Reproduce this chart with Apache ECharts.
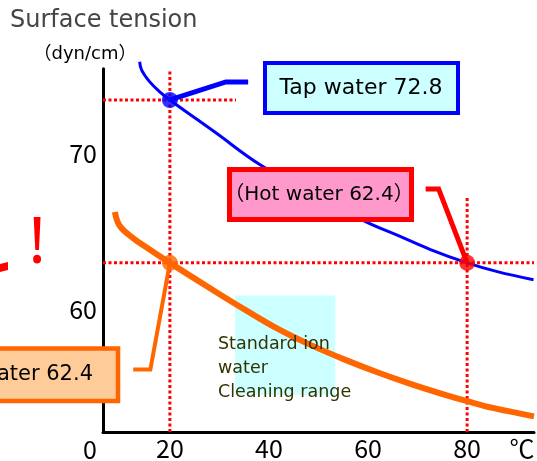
<!DOCTYPE html>
<html><head><meta charset="utf-8">
<script src="https://cdn.jsdelivr.net/npm/echarts@6/dist/echarts.min.js"></script>
<style>html,body{margin:0;padding:0;background:#fff}#c{width:537px;height:461px}</style>
</head><body><div id="c"></div>
<script>
// Data
var tapT = [13.9, 14.3, 15.9, 17.9, 20, 29.2, 38.3, 49, 59.4, 66, 72.6, 80, 86.1, 93.4];
var tapV = [75.24, 74.71, 73.97, 73.33, 72.8, 70.72, 68.65, 66.8, 65.05, 64.15, 63.25, 62.4, 61.84, 61.32];
var ionT = [8.9, 9.9, 12.5, 15.9, 20, 28.6, 35.3, 42, 48.6, 55.3, 62, 68.7, 75.4, 80, 85.4, 93.5];
var ionV = [65.65, 64.75, 64.0, 63.25, 62.4, 60.68, 59.38, 58.15, 57.13, 56.22, 55.4, 54.66, 53.99, 53.57, 53.12, 52.6];
var xTickLabels = [20, 40, 60, 80];
var yTickLabels = [60, 70];
var tapPoint = [20, 72.8];
var hotPoint = [80, 62.4];
var ionPoint = [20, 62.4];
var cleaningRange = [[33.15, 60.31], [53.39, 53.98]];
var tapLeader = [[20, 72.8], [31.3, 73.95], [35.8, 73.95]];
var hotLeader = [[71.63, 67.12], [74.24, 67.12], [80, 62.4]];
var ionLeader = [[12.61, 55.59], [16.06, 55.59], [20, 62.4]];
var guideH1 = [[6.5, 72.8], [33.35, 72.8]];
var guideV1 = [[20, 51.6], [20, 74.71]];
var guideH2 = [[6.5, 62.4], [93.5, 62.4]];
var guideV2 = [[80, 51.6], [80, 66.55]];

function zip(a, b) { return a.map(function (v, i) { return [v, b[i]]; }); }
var FONT = '"Noto Sans CJK JP","Noto Sans",sans-serif';
var LFONT = '"DejaVu Sans","Noto Sans CJK JP",sans-serif';
var chart = echarts.init(document.getElementById('c'));
var dotted = function (d) {
  return { type: 'line', data: d, symbol: 'none', silent: true, z: 2,
    lineStyle: { color: '#FF0000', width: 3, type: [3, 2.5] } };
};
var leader = function (d, c, w) {
  return { type: 'line', data: d, symbol: 'none', silent: true, z: 4, clip: false,
    lineStyle: { color: c, width: w, join: 'miter' } };
};
function onlyTicks(list) {
  return function (v) { var r = Math.round(v); return (Math.abs(v - r) < 1e-6 && list.indexOf(r) >= 0) ? String(r) : ''; };
}
chart.setOption({
  animation: false,
  grid: { left: 103, right: 0, top: 68.65, bottom: 28.73 },
  xAxis: { type: 'value', min: 6.5, max: 93.5, interval: 0.5,
    axisLine: { onZero: false, lineStyle: { color: '#000', width: 3 } },
    axisTick: { show: false }, splitLine: { show: false },
    axisLabel: { margin: 4, fontSize: 25, color: '#000', fontFamily: FONT, interval: 0,
      formatter: onlyTicks(xTickLabels) } },
  yAxis: { type: 'value', min: 51.6, max: 74.8, interval: 0.2,
    axisLine: { show: true, onZero: false, lineStyle: { color: '#000', width: 3 } },
    axisTick: { show: false }, splitLine: { show: false },
    axisLabel: { margin: 6, fontSize: 25, color: '#000', fontFamily: FONT, interval: 0,
      verticalAlign: 'top', lineHeight: 19,
      formatter: onlyTicks(yTickLabels) } },
  series: [
    { type: 'line', data: [], z: 1, silent: true,
      markArea: { silent: true, itemStyle: { color: '#CCFFFF' },
        data: [[{ coord: cleaningRange[0] }, { coord: cleaningRange[1] }]] } },
    dotted(guideH1), dotted(guideV1), dotted(guideH2), dotted(guideV2),
    { type: 'line', data: zip(tapT, tapV), symbol: 'none', smooth: 0.4, clip: false, z: 3,
      lineStyle: { color: '#0000FF', width: 3 } },
    { type: 'line', data: zip(ionT, ionV), symbol: 'none', smooth: 0.4, clip: false, z: 3,
      lineStyle: { color: '#FF6600', width: 6 } },
    leader(tapLeader, '#0000FF', 5), leader(hotLeader, '#FF0000', 5), leader(ionLeader, '#FF6600', 4),
    { type: 'scatter', data: [tapPoint], symbolSize: 16, z: 5, itemStyle: { color: '#0000FF' } },
    { type: 'scatter', data: [hotPoint], symbolSize: 16, z: 5, itemStyle: { color: '#FF0000' } },
    { type: 'scatter', data: [ionPoint], symbolSize: 16, z: 5, itemStyle: { color: '#FF6600' } }
  ],
  graphic: [
    { type: 'text', z: 100, x: 10, y: 21, style: { text: 'Surface tension', font: '24px ' + LFONT, fill: '#454545', verticalAlign: 'middle' } },
    { type: 'text', z: 100, x: 85, y: 54, style: { text: '（dyn/cm）', font: '18px ' + LFONT, fill: '#000', align: 'center', verticalAlign: 'middle' } },
    { type: 'text', z: 100, x: 90, y: 449, style: { text: '0', font: '25px ' + FONT, fill: '#000', align: 'center', verticalAlign: 'middle' } },
    { type: 'text', z: 100, x: 522, y: 448, style: { text: '℃', font: '25px "Noto Sans CJK JP",sans-serif', fill: '#000', align: 'center', verticalAlign: 'middle' } },
    { type: 'text', z: 100, x: 218, y: 332, style: { text: 'Standard ion\nwater\nCleaning range', font: '17.5px ' + LFONT, lineHeight: 24, fill: '#333300' } },
    { type: 'rect', z: 100, shape: { x: 265, y: 63, width: 193, height: 50 }, style: { fill: '#CCFFFF', stroke: '#0000FF', lineWidth: 4 } },
    { type: 'text', z: 101, x: 361, y: 88, style: { text: 'Tap water 72.8', font: '22px ' + LFONT, fill: '#000', align: 'center', verticalAlign: 'middle' } },
    { type: 'rect', z: 100, shape: { x: 229.5, y: 169.5, width: 182, height: 50 }, style: { fill: '#FF99CC', stroke: '#FF0000', lineWidth: 5 } },
    { type: 'text', z: 101, x: 319, y: 195, style: { text: '（Hot water 62.4）', font: '20px ' + LFONT, fill: '#000', align: 'center', verticalAlign: 'middle' } },
    { type: 'rect', z: 100, shape: { x: -10, y: 348.5, width: 128, height: 52.5 }, style: { fill: '#FFCC99', stroke: '#FF6600', lineWidth: 4.5 } },
    { type: 'text', z: 101, x: 93, y: 375, style: { text: 'Ion water 62.4', font: '21px ' + LFONT, fill: '#000', align: 'right', verticalAlign: 'middle' } },
    { type: 'text', z: 100, x: 37, y: 245, style: { text: '!', font: '64px "Noto Sans",sans-serif', fill: '#FF0000', align: 'center', verticalAlign: 'middle' } },
    { type: 'polygon', z: 100, shape: { points: [[0, 264], [8, 262], [8, 270], [0, 272]] }, style: { fill: '#FF0000' } }
  ]
});
</script></body></html>
